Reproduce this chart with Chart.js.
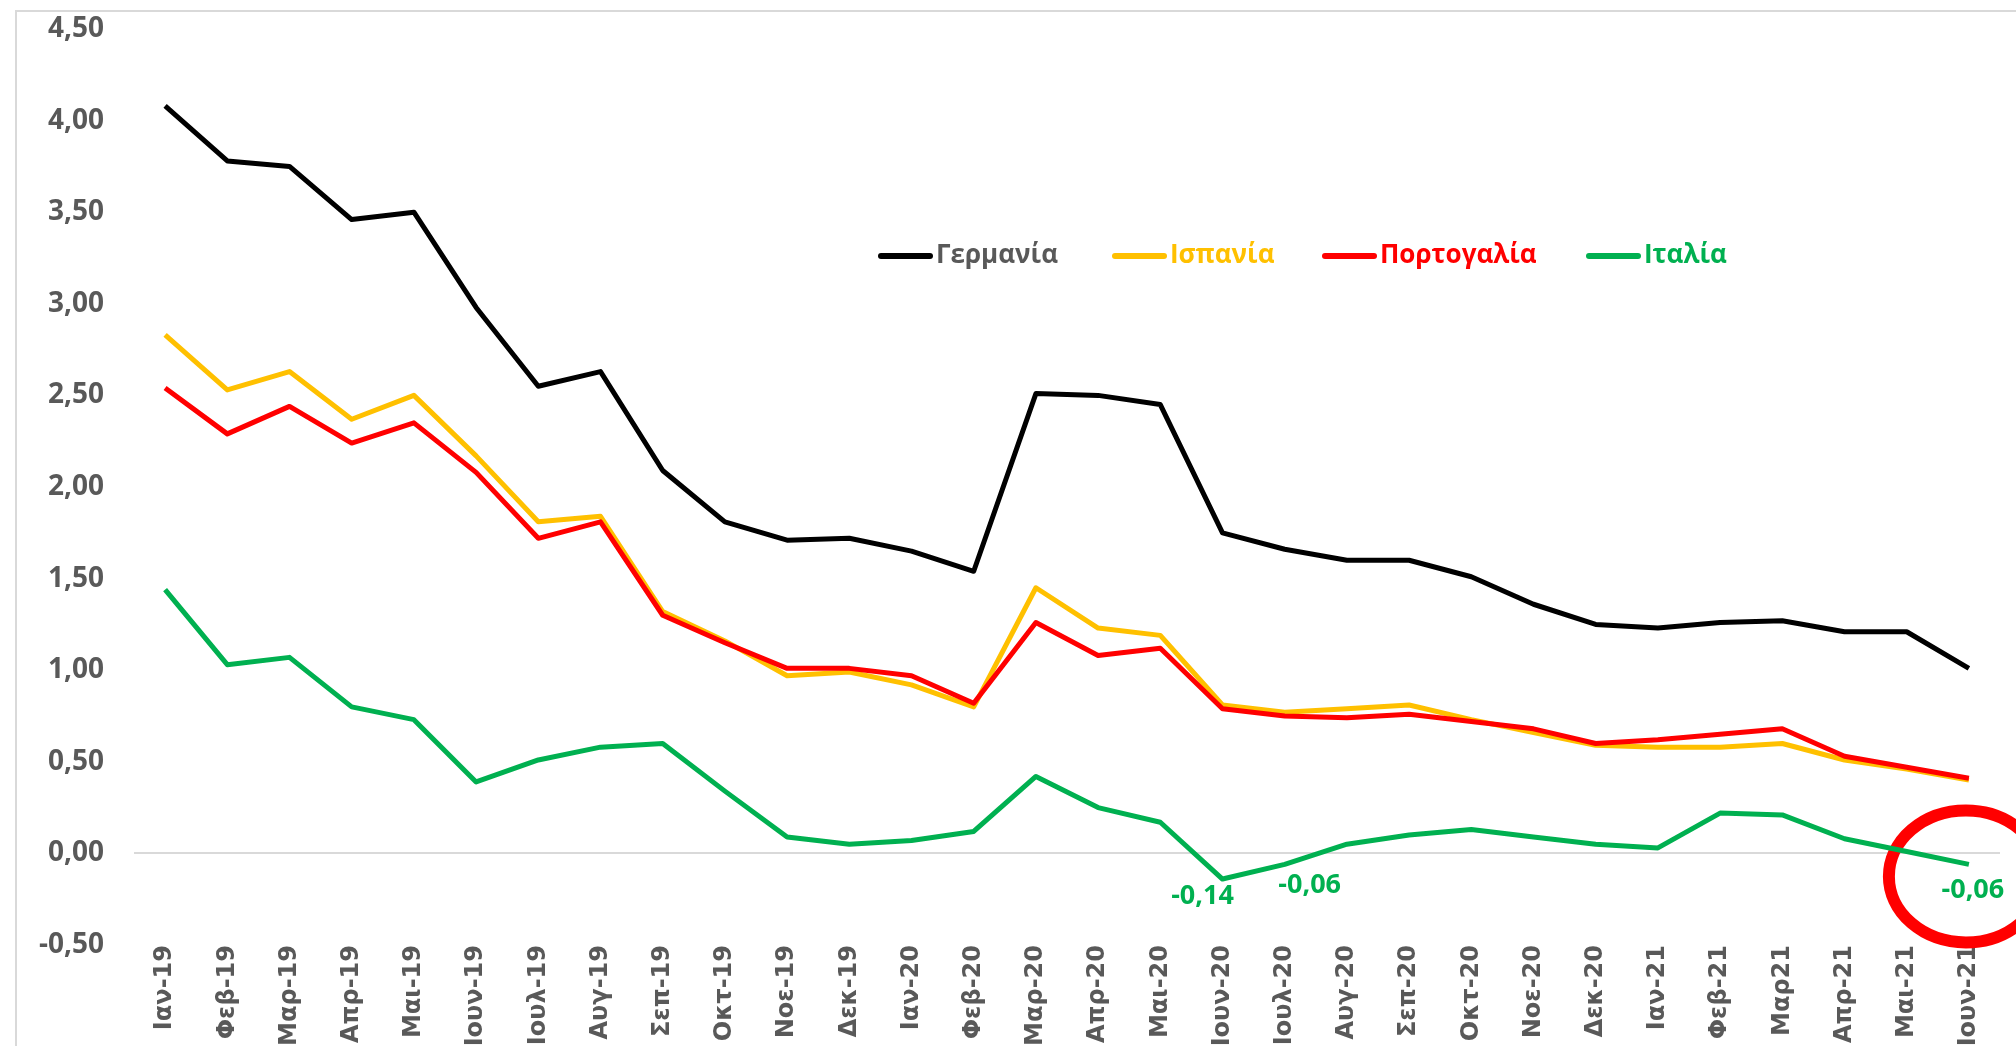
<!DOCTYPE html>
<html>
<head>
<meta charset="utf-8">
<script src="https://cdn.jsdelivr.net/npm/chart.js@4.4.0/dist/chart.umd.min.js"></script>
<style>
  html, body { margin: 0; padding: 0; background: #fff; overflow: hidden; width: 2016px; height: 1046px; }
  #frame { position: absolute; left: 15px; top: 10px; right: -10px; bottom: -10px; border-left: 2px solid #d9d9d9; border-top: 2px solid #d9d9d9; }
  #c { position: absolute; left: 0; top: 0; }
</style>
</head>
<body>
<div id="frame"></div>
<canvas id="c" width="2016" height="1046"></canvas>
<script>
// ===== DATA =====
const months = ['Ιαν-19','Φεβ-19','Μαρ-19','Απρ-19','Μαι-19','Ιουν-19','Ιουλ-19','Αυγ-19','Σεπ-19','Οκτ-19','Νοε-19','Δεκ-19',
  'Ιαν-20','Φεβ-20','Μαρ-20','Απρ-20','Μαι-20','Ιουν-20','Ιουλ-20','Αυγ-20','Σεπ-20','Οκτ-20','Νοε-20','Δεκ-20',
  'Ιαν-21','Φεβ-21','Μαρ21','Απρ-21','Μαι-21','Ιουν-21'];
const seriesNames = ['Γερμανία', 'Ισπανία', 'Πορτογαλία', 'Ιταλία'];
const germany  = [4.08,3.78,3.75,3.46,3.50,2.98,2.55,2.63,2.09,1.81,1.71,1.72,1.65,1.54,2.51,2.50,2.45,1.75,1.66,1.60,1.60,1.51,1.36,1.25,1.23,1.26,1.27,1.21,1.21,1.01];
const spain    = [2.83,2.53,2.63,2.37,2.50,2.17,1.81,1.84,1.32,1.16,0.97,0.99,0.92,0.80,1.45,1.23,1.19,0.81,0.77,0.79,0.81,0.73,0.66,0.59,0.58,0.58,0.60,0.51,0.46,0.40];
const portugal = [2.54,2.29,2.44,2.24,2.35,2.08,1.72,1.81,1.30,1.15,1.01,1.01,0.97,0.82,1.26,1.08,1.12,0.79,0.75,0.74,0.76,0.72,0.68,0.60,0.62,0.65,0.68,0.53,0.47,0.41];
const italy    = [1.44,1.03,1.07,0.80,0.73,0.39,0.51,0.58,0.60,0.34,0.09,0.05,0.07,0.12,0.42,0.25,0.17,-0.14,-0.06,0.05,0.10,0.13,0.09,0.05,0.03,0.22,0.21,0.08,0.01,-0.06];
const yTicks = [-0.5, 0, 0.5, 1, 1.5, 2, 2.5, 3, 3.5, 4, 4.5];
const labelledItaly = [17, 18, 29]; // points with a value label

// ===== STYLE =====
const lineColors = ['#000000', '#FFC000', '#FF0000', '#00B050'];
const legendTextColors = ['#595959', '#FFC000', '#FF0000', '#00B050'];
const legendX = [878, 1112, 1322, 1586], legendY = 256;
const labelOffsets = { 17: [-20, 17], 18: [25, 21], 29: [4, 26] };
const fmt = v => v.toFixed(2).replace('.', ',');
const axisGray = '#595959';

const innerLegend = {
  id: 'innerLegend',
  afterDraw(chart) {
    const ctx = chart.ctx;
    ctx.save();
    ctx.font = 'bold 26px "Open Sans"';
    ctx.textBaseline = 'middle';
    ctx.lineCap = 'round';
    seriesNames.forEach((name, i) => {
      const x = legendX[i];
      ctx.strokeStyle = lineColors[i];
      ctx.lineWidth = 6;
      ctx.beginPath(); ctx.moveTo(x + 3, legendY); ctx.lineTo(x + 52, legendY); ctx.stroke();
      ctx.fillStyle = legendTextColors[i];
      ctx.fillText(name, x + 58, legendY);
    });
    ctx.restore();
  }
};

// red ring round the last Italy point
const ring = {
  id: 'ring',
  beforeDatasetsDraw(chart) {
    const p = chart.getDatasetMeta(3).data[italy.length - 1];
    const ctx = chart.ctx;
    ctx.save();
    ctx.strokeStyle = '#FF0000';
    ctx.lineWidth = 12;
    ctx.beginPath();
    ctx.ellipse(p.x - 3, p.y + 12, 77, 66, 0, 0, Math.PI * 2);
    ctx.stroke();
    ctx.restore();
  }
};

const valueLabels = {
  id: 'valueLabels',
  afterDatasetsDraw(chart) {
    const meta = chart.getDatasetMeta(3);
    const ctx = chart.ctx;
    ctx.save();
    ctx.font = 'bold 27px "Open Sans"';
    ctx.fillStyle = '#00B050';
    ctx.textAlign = 'center';
    ctx.textBaseline = 'middle';
    labelledItaly.forEach(i => {
      const p = meta.data[i], o = labelOffsets[i];
      ctx.fillText(fmt(italy[i]), p.x + o[0], p.y + o[1]);
    });
    ctx.restore();
  }
};

const mk = (label, data, i) => ({
  label, data, borderColor: lineColors[i], backgroundColor: lineColors[i],
  borderWidth: 5, pointRadius: 0, tension: 0, borderJoinStyle: 'round', order: 4 - i
});

new Chart(document.getElementById('c'), {
  type: 'line',
  data: {
    labels: months,
    datasets: [
      mk(seriesNames[0], germany, 0),
      mk(seriesNames[1], spain, 1),
      mk(seriesNames[2], portugal, 2),
      mk(seriesNames[3], italy, 3)
    ]
  },
  options: {
    responsive: false,
    animation: false,
    layout: { padding: { top: 29, right: 16, left: 0, bottom: 0 } },
    plugins: { legend: { display: false }, tooltip: { enabled: false } },
    scales: {
      x: {
        offset: true,
        grid: { display: false, drawTicks: false },
        border: { display: false },
        ticks: { autoSkip: false, minRotation: 90, maxRotation: 90, padding: 0, color: axisGray, font: { family: 'DejaVu Sans', weight: 'bold', size: 24 } },
        afterFit(s) { s.height = 101; }
      },
      y: {
        min: -0.5, max: 4.5,
        afterBuildTicks(s) { s.ticks = yTicks.map(v => ({ value: v })); },
        grid: { drawTicks: false, lineWidth: 2, color: c => c.tick && c.tick.value === 0 ? '#d9d9d9' : 'rgba(0,0,0,0)' },
        border: { display: false },
        ticks: { padding: 30, color: axisGray, font: { family: 'Open Sans', weight: 'bold', size: 28 }, callback: v => fmt(v) },
        afterFit(s) { s.width = 134; s.paddingTop = 0; s.paddingBottom = 0; }
      }
    }
  },
  plugins: [ring, valueLabels, innerLegend]
});
</script>
</body>
</html>
